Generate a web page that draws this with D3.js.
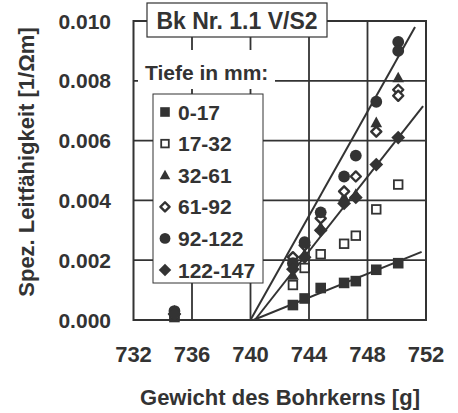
<!DOCTYPE html>
<html>
<head>
<meta charset="utf-8">
<script src="https://cdn.jsdelivr.net/npm/d3@7"></script>
<style>
  body { margin: 0; background: #fff; }
  text { font-family: Arial, "Liberation Sans", sans-serif; fill: #333; }
</style>
</head>
<body>
<div id="chart"></div>
<script>
// values

var weights = [734.8, 742.9, 743.7, 744.8, 746.4, 747.2, 748.6, 750.1, 750.1];

var d0_17    = [0.0001, 0.0005, 0.00072, 0.00107, 0.00124, 0.0013, 0.00168, 0.0019, null];
var d17_32   = [0.0002, 0.00117, 0.00174, 0.0022, 0.00255, 0.00282, 0.0037, 0.00453, null];
var d32_61   = [0.0003, 0.0015, 0.0022, 0.0031, 0.0041, 0.0042, 0.0066, 0.0081, null];
var d61_92   = [0.0002, 0.0021, 0.0025, 0.0034, 0.0043, 0.0048, 0.0063, 0.0077, 0.0075];
var d92_122  = [0.0003, 0.0019, 0.0026, 0.0036, 0.0048, 0.0055, 0.0073, 0.0093, 0.0090];
var d122_147 = [0.0002, 0.0017, 0.0021, 0.0030, 0.0039, 0.0041, 0.0052, 0.0061, null];

var depthLabels = ["0-17", "17-32", "32-61", "61-92", "92-122", "122-147"];
var symbols = ["squareFilled", "squareOpen", "triangle", "diamondOpen", "circle", "diamondFilled"];

// regression lines, endpoints [weight, value]
var fitLow   = [[740.2, 0], [751.7, 0.00228]];
var fitSteep = [[740.0, 0], [751.25, 0.0098]];
var fitMid   = [[740.3, 0], [751.8, 0.00715]];

var xTicks = [732, 736, 740, 744, 748, 752];
var yTicks = [0, 0.002, 0.004, 0.006, 0.008, 0.010];

var series = [d0_17, d17_32, d32_61, d61_92, d92_122, d122_147];
var ink = "#333";

var svg = d3.select("#chart").append("svg")
  .attr("width", 458).attr("height", 413);

var x = d3.scaleLinear().domain([732, 752]).range([133.5, 426]);
var y = d3.scaleLinear().domain([0, 0.010]).range([320, 21]);

// grid
svg.append("g").selectAll("line").data(xTicks.slice(1, -1)).enter().append("line")
  .attr("x1", function(d) { return x(d); }).attr("x2", function(d) { return x(d); })
  .attr("y1", y(0)).attr("y2", y(0.010))
  .attr("stroke", ink).attr("stroke-width", 1.8);
svg.append("g").selectAll("line").data(yTicks.slice(1, -1)).enter().append("line")
  .attr("y1", function(d) { return y(d); }).attr("y2", function(d) { return y(d); })
  .attr("x1", x(732)).attr("x2", x(752))
  .attr("stroke", ink).attr("stroke-width", 1.8);

svg.append("rect")
  .attr("x", x(732)).attr("y", y(0.010))
  .attr("width", x(752) - x(732)).attr("height", y(0) - y(0.010))
  .attr("fill", "none").attr("stroke", ink).attr("stroke-width", 2);

// tick labels
var fy = d3.format(".3f");
svg.append("g").selectAll("text").data(yTicks).enter().append("text")
  .attr("x", 111).attr("y", function(d) { return y(d); }).attr("dy", "0.36em")
  .attr("text-anchor", "end")
  .style("font-size", "21px").style("font-weight", "bold")
  .text(function(d) { return fy(d); });

svg.append("g").selectAll("text").data(xTicks).enter().append("text")
  .attr("x", function(d) { return x(d); }).attr("y", 362)
  .attr("text-anchor", "middle")
  .style("font-size", "22px").style("font-weight", "bold")
  .text(function(d) { return d; });

svg.append("text")
  .attr("x", 280).attr("y", 405)
  .attr("text-anchor", "middle")
  .style("font-size", "22px").style("font-weight", "bold")
  .text("Gewicht des Bohrkerns [g]");

svg.append("text")
  .attr("transform", "translate(34,162) rotate(-90)")
  .attr("text-anchor", "middle")
  .style("font-size", "22px").style("font-weight", "bold")
  .text("Spez. Leitfähigkeit [1/Ωm]");

// fit lines
var line = d3.line().x(function(d) { return x(d[0]); }).y(function(d) { return y(d[1]); });
[fitLow, fitSteep, fitMid].forEach(function(f) {
  svg.append("path").attr("d", line(f))
    .attr("fill", "none").attr("stroke", ink).attr("stroke-width", 2);
});

// markers
function diamondPath(r) {
  return "M0," + (-r) + "L" + r + ",0L0," + r + "L" + (-r) + ",0Z";
}
function drawMarker(g, kind, cx, cy, s) {
  var tr = "translate(" + cx + "," + cy + ")";
  if (kind == "squareFilled") {
    g.append("rect").attr("x", cx - s).attr("y", cy - s).attr("width", 2 * s).attr("height", 2 * s)
      .attr("fill", ink);
  } else if (kind == "squareOpen") {
    g.append("rect").attr("x", cx - s + 1).attr("y", cy - s + 1).attr("width", 2 * s - 2).attr("height", 2 * s - 2)
      .attr("fill", "#fff").attr("stroke", ink).attr("stroke-width", 1.8);
  } else if (kind == "triangle") {
    g.append("path").attr("d", "M0," + (-s * 1.15) + "L" + (s * 1.1) + "," + (s * 0.85) + "L" + (-s * 1.1) + "," + (s * 0.85) + "Z")
      .attr("transform", tr).attr("fill", ink);
  } else if (kind == "diamondOpen") {
    g.append("path").attr("d", diamondPath(s * 0.95))
      .attr("transform", tr)
      .attr("fill", "#fff").attr("stroke", ink).attr("stroke-width", 2.4).attr("stroke-linejoin", "round");
  } else if (kind == "circle") {
    g.append("circle").attr("cx", cx).attr("cy", cy).attr("r", s + 0.6).attr("fill", ink);
  } else {
    g.append("path").attr("d", diamondPath(s * 1.3))
      .attr("transform", tr).attr("fill", ink);
  }
}

var pts = svg.append("g");
series.forEach(function(vals, i) {
  vals.forEach(function(v, j) {
    if (v == null) return;
    drawMarker(pts, symbols[i], x(weights[j]), y(v), 5.3);
  });
});

// title box
var tb = svg.append("g");
tb.append("rect").attr("x", 147).attr("y", 3).attr("width", 180).attr("height", 34)
  .attr("fill", "#fff").attr("stroke", ink).attr("stroke-width", 1.2);
tb.append("text").attr("x", 237).attr("y", 29).attr("text-anchor", "middle")
  .style("font-size", "23px").style("font-weight", "bold")
  .text("Bk Nr. 1.1 V/S2");

// legend
var lg = svg.append("g");
lg.append("rect").attr("x", 138).attr("y", 50).attr("width", 137).attr("height", 39).attr("fill", "#fff");
lg.append("text").attr("x", 145).attr("y", 80)
  .style("font-size", "21px").style("font-weight", "bold")
  .text("Tiefe in mm:");
lg.append("rect").attr("x", 153).attr("y", 94).attr("width", 110).attr("height", 189)
  .attr("fill", "#fff").attr("stroke", ink).attr("stroke-width", 1);
depthLabels.forEach(function(lab, i) {
  var cy = 112 + i * 31.6;
  drawMarker(lg, symbols[i], 165, cy, 4.8);
  lg.append("text").attr("x", 178).attr("y", cy + 7.5)
    .style("font-size", "21px").style("font-weight", "bold")
    .text(lab);
});
</script>
</body>
</html>
